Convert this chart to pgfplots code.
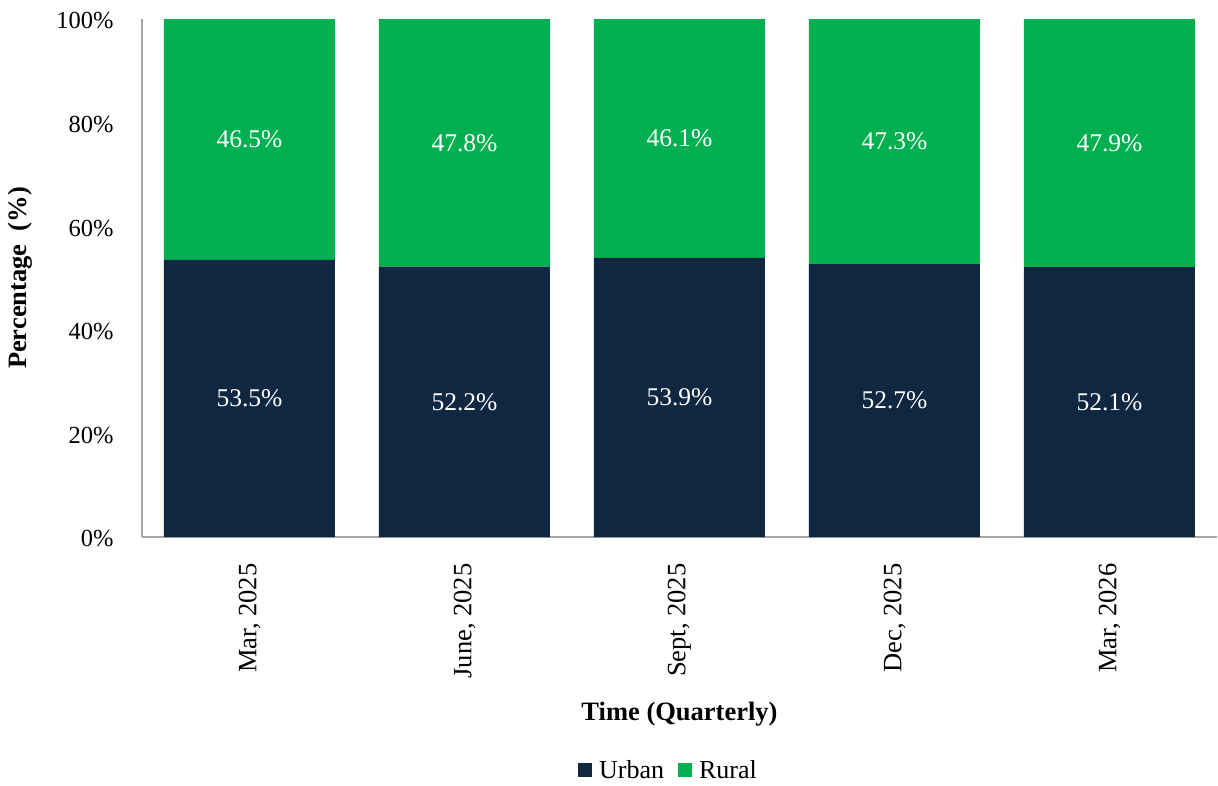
\documentclass[border=0pt]{standalone}
\usepackage{pgfplots}
\pgfplotsset{compat=1.18}
\usepackage{fontspec}
\setmainfont{Liberation Serif}
\definecolor{urban}{HTML}{0F2741}
\definecolor{rural}{HTML}{00B050}
\definecolor{axgray}{HTML}{A6A6A6}
\begin{document}
\begin{tikzpicture}
\useasboundingbox (-142pt,-248pt) rectangle (1076pt,537pt);
\begin{axis}[
  at={(0pt,0pt)}, anchor=south west,
  scale only axis, width=1075pt, height=518pt,
  ybar stacked, bar width=171pt,
  xmin=-0.5, xmax=4.5, ymin=0, ymax=100,
  axis x line*=bottom, axis y line*=left,
  axis line style={axgray, line width=1.2pt, -},
  xtick=data,
  xticklabels={{Mar, 2025},{June, 2025},{Sept, 2025},{Dec, 2025},{Mar, 2026}},
  x tick label style={rotate=90, anchor=east, font=\fontsize{26.5}{30}\selectfont},
  ytick={0,20,40,60,80,100},
  yticklabel={\pgfmathprintnumber{\tick}\%},
  y tick label style={font=\fontsize{24.5}{28}\selectfont, yshift=-2pt},
  /pgf/number format/assume math mode=true,
  major tick length=0pt,
  xticklabel shift=23pt,
  yticklabel shift=25pt,
  ylabel={\textbf{Percentage\ \ (\%)}},
  ylabel style={font=\fontsize{26.5}{30}\selectfont, at={(rel axis cs:0,0.5)}, anchor=center, yshift=122pt},
  xlabel={\textbf{Time (Quarterly)}},
  xlabel style={font=\fontsize{26.5}{30}\selectfont, at={(rel axis cs:0.5,0)}, anchor=center, yshift=-177pt},
  legend columns=2,
  legend style={at={(rel axis cs:0.5,0)}, yshift=-233pt, xshift=-11pt, anchor=center, draw=none, font=\fontsize{26}{30}\selectfont,
    /tikz/every even column/.append style={column sep=12pt}},
  legend image code/.code={\fill[#1] (0pt,-7pt) rectangle (14pt,7pt); \path (19pt,0pt);},
]
\addplot[fill=urban, draw=none] coordinates {(0,53.5) (1,52.2) (2,53.9) (3,52.7) (4,52.1)};
\addplot[fill=rural, draw=none] coordinates {(0,46.5) (1,47.8) (2,46.1) (3,47.3) (4,47.9)};
\legend{Urban, Rural}
\end{axis}
\begin{axis}[
  at={(0pt,0pt)}, anchor=south west,
  scale only axis, width=1075pt, height=518pt,
  xmin=-0.5, xmax=4.5, ymin=0, ymax=100, hide axis,
  nodes near coords, point meta=explicit symbolic,
  every node near coord/.style={anchor=center, text=white, font=\fontsize{25.5}{28}\selectfont},
]
\addplot[only marks, mark=none, draw=none] table[meta=lab] {
x y lab
0 26.75 53.5\%
1 26.1 52.2\%
2 26.95 53.9\%
3 26.35 52.7\%
4 26.05 52.1\%
};
\addplot[only marks, mark=none, draw=none] table[meta=lab] {
x y lab
0 76.75 46.5\%
1 76.1 47.8\%
2 76.95 46.1\%
3 76.35 47.3\%
4 76.05 47.9\%
};
\end{axis}
\end{tikzpicture}
\end{document}
